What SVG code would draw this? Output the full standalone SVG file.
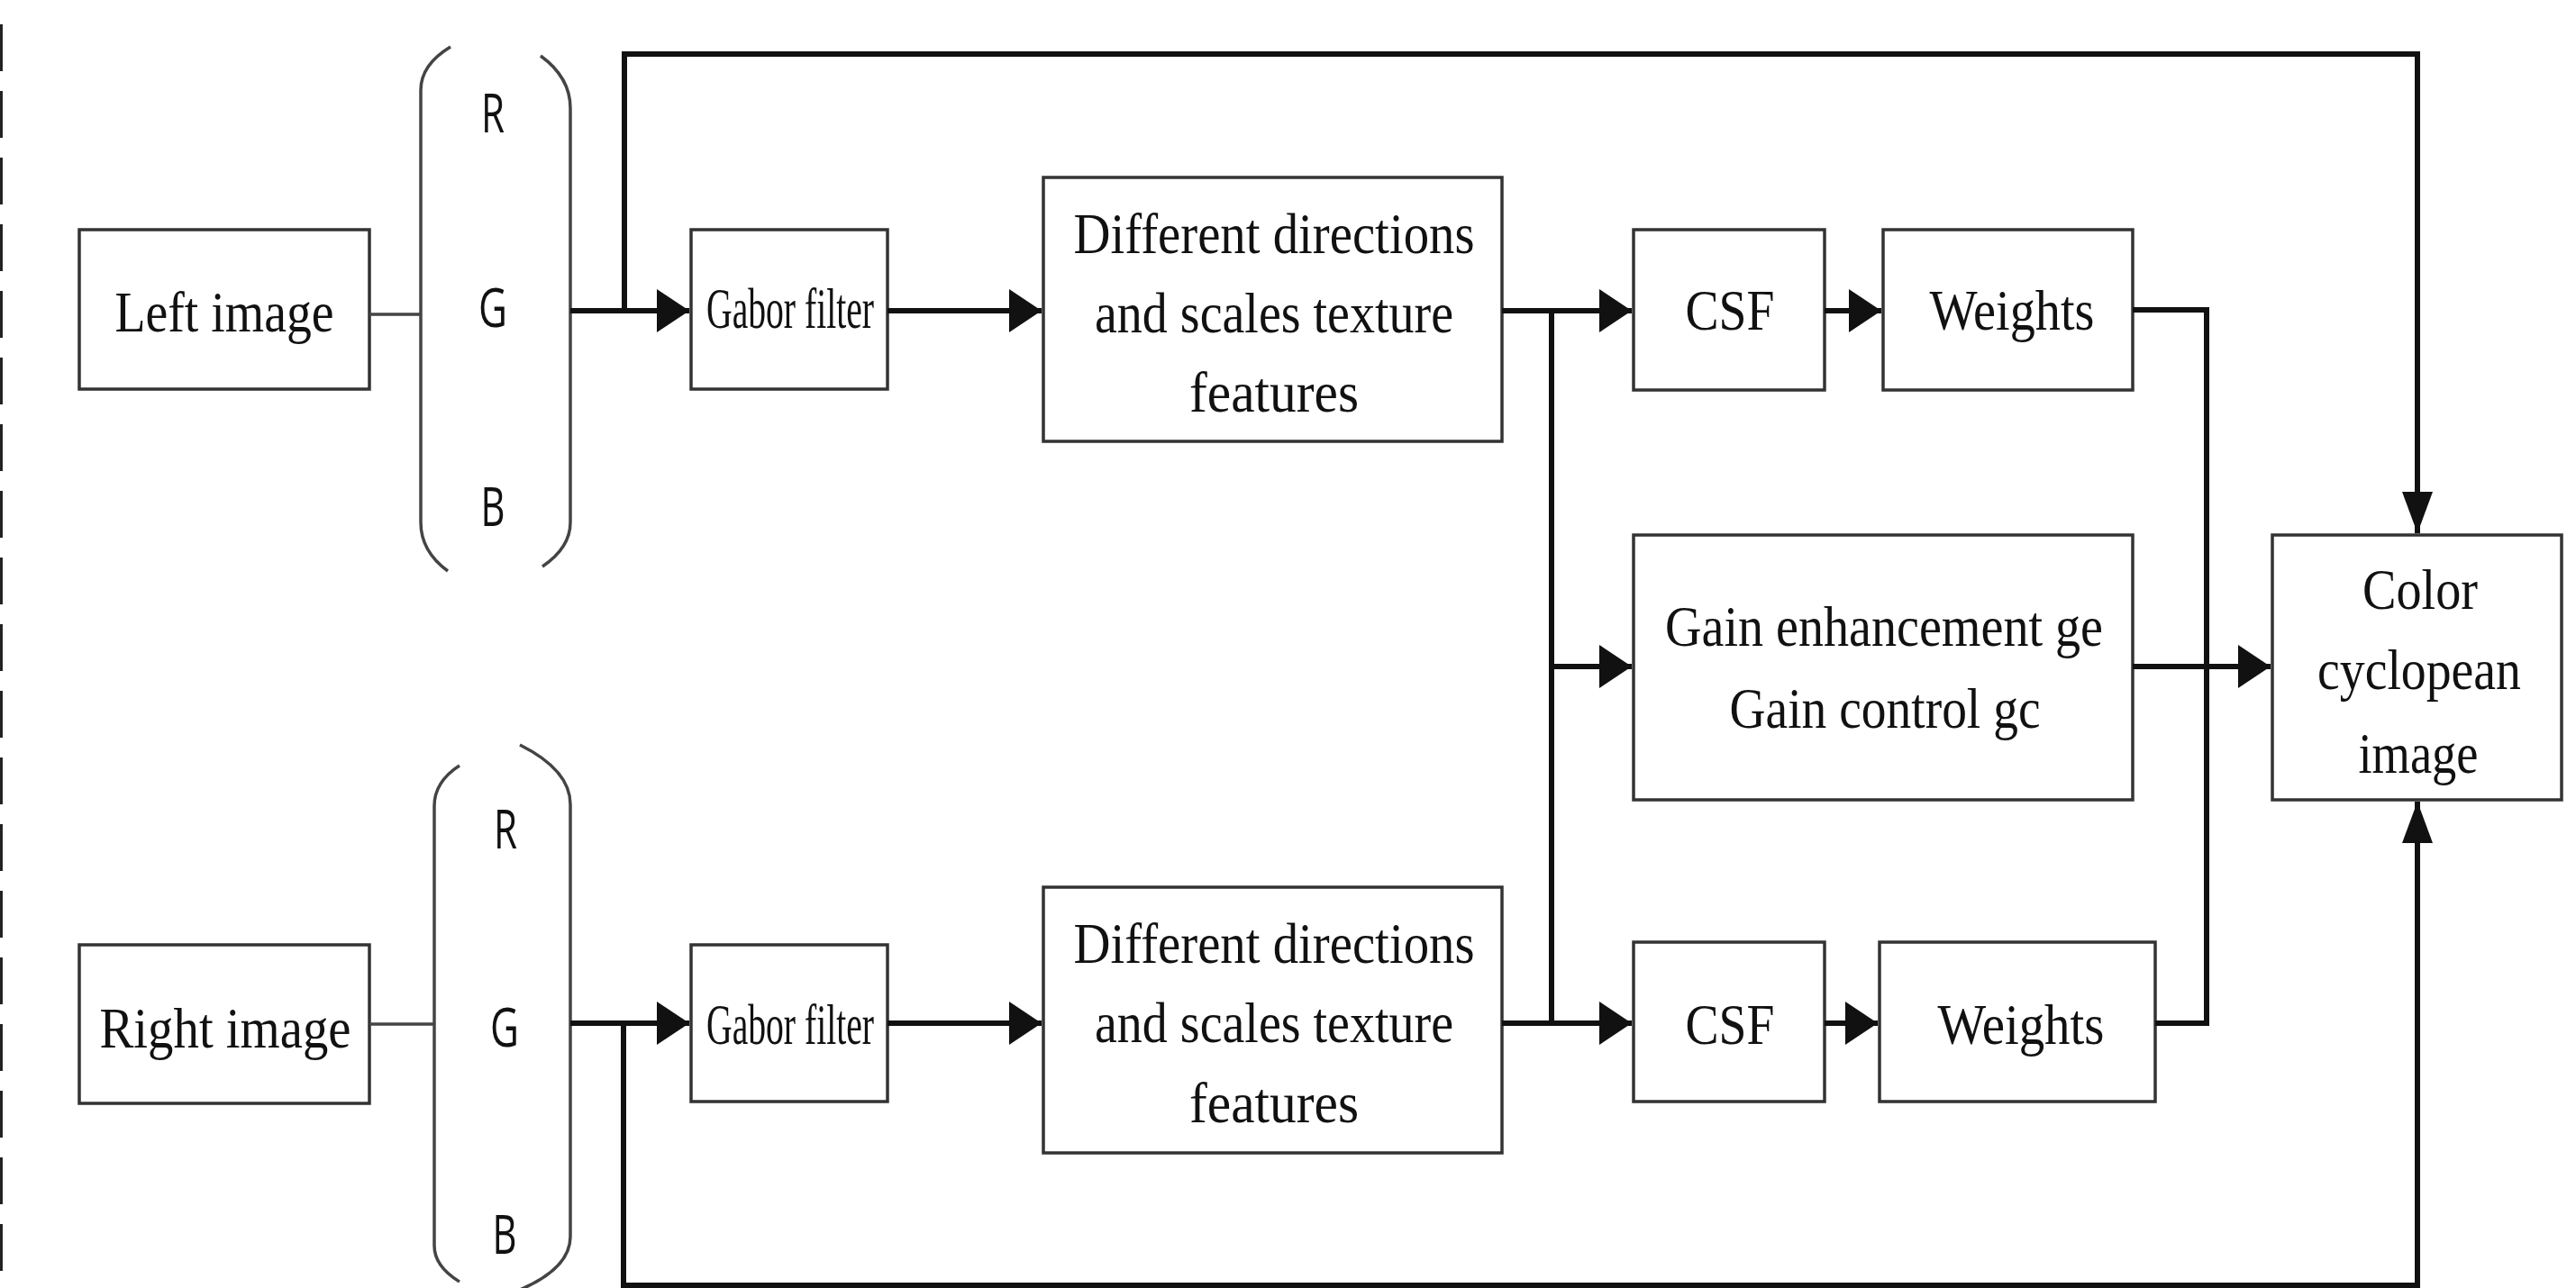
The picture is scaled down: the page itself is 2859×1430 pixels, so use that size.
<svg xmlns="http://www.w3.org/2000/svg" width="2859" height="1430" viewBox="0 0 2859 1430">
<style>
.box{fill:#fff;stroke:#333;stroke-width:3.5}
.t{font-family:"Liberation Serif","Times New Roman",serif;font-size:64px;fill:#111;text-anchor:middle}
.s{font-family:"Open Sans","Noto Sans",sans-serif;font-size:60px;fill:#111;text-anchor:middle}
.paren{fill:none;stroke:#444;stroke-width:3.5}
.thin{fill:none;stroke:#444;stroke-width:3.5}
.c{fill:none;stroke:#111;stroke-width:6}
.ch{fill:none;stroke:#111;stroke-width:6;marker-end:url(#ah)}
.cv{fill:none;stroke:#111;stroke-width:6;marker-end:url(#av)}
</style>
<defs>
<marker id="ah" markerUnits="userSpaceOnUse" markerWidth="36" markerHeight="48" refX="36" refY="24" orient="auto"><path d="M0,0 L36,24 L0,48 z" fill="#111"/></marker>
<marker id="av" markerUnits="userSpaceOnUse" markerWidth="46" markerHeight="34" refX="46" refY="17" orient="auto"><path d="M0,0 L46,17 L0,34 z" fill="#111"/></marker>
</defs>
<rect width="2859" height="1430" fill="#fff"/>
<line x1="1.5" y1="27" x2="1.5" y2="1430" stroke="#222" stroke-width="3" stroke-dasharray="52 22"/>

<g id="left-image"><rect class="box" x="88" y="255" width="322" height="177"/><text class="t" x="249" y="368" textLength="243" lengthAdjust="spacingAndGlyphs">Left image</text></g>
<g id="right-image"><rect class="box" x="88" y="1049" width="322" height="176"/><text class="t" x="250" y="1163" textLength="279" lengthAdjust="spacingAndGlyphs">Right image</text></g>

<g id="rgb-left">
<path class="paren" d="M500,52 Q467,72 467,100 L467,580 Q467,612 497,634"/>
<path class="paren" d="M600,62 Q633,86 633,120 L633,580 Q633,608 602,629"/>
<text class="s" x="547" y="147" textLength="26" lengthAdjust="spacingAndGlyphs">R</text>
<text class="s" x="547" y="363" textLength="32" lengthAdjust="spacingAndGlyphs">G</text>
<text class="s" x="547" y="584" textLength="27" lengthAdjust="spacingAndGlyphs">B</text>
</g>
<g id="rgb-right">
<path class="paren" d="M510,850 Q482,868 482,895 L482,1383 Q482,1406 510,1423"/>
<path class="paren" d="M577,827 Q633,855 633,893 L633,1373 Q633,1408 577,1432"/>
<text class="s" x="561" y="942" textLength="26" lengthAdjust="spacingAndGlyphs">R</text>
<text class="s" x="560" y="1162" textLength="32" lengthAdjust="spacingAndGlyphs">G</text>
<text class="s" x="560" y="1392" textLength="27" lengthAdjust="spacingAndGlyphs">B</text>
</g>

<g id="gabor-left"><rect class="box" x="767" y="255" width="218" height="177"/><text class="t" x="877" y="364" textLength="186" lengthAdjust="spacingAndGlyphs">Gabor filter</text></g>
<g id="gabor-right"><rect class="box" x="767" y="1049" width="218" height="174"/><text class="t" x="877" y="1159" textLength="186" lengthAdjust="spacingAndGlyphs">Gabor filter</text></g>

<g id="texture-left"><rect class="box" x="1158" y="197" width="509" height="293"/>
<text class="t" x="1414" y="281" textLength="445" lengthAdjust="spacingAndGlyphs">Different directions</text>
<text class="t" x="1414" y="369" textLength="398" lengthAdjust="spacingAndGlyphs">and scales texture</text>
<text class="t" x="1414" y="457" textLength="188" lengthAdjust="spacingAndGlyphs">features</text></g>
<g id="texture-right"><rect class="box" x="1158" y="985" width="509" height="295"/>
<text class="t" x="1414" y="1069" textLength="445" lengthAdjust="spacingAndGlyphs">Different directions</text>
<text class="t" x="1414" y="1157" textLength="398" lengthAdjust="spacingAndGlyphs">and scales texture</text>
<text class="t" x="1414" y="1246" textLength="188" lengthAdjust="spacingAndGlyphs">features</text></g>

<g id="csf-left"><rect class="box" x="1813" y="255" width="212" height="178"/><text class="t" x="1920" y="366" textLength="99" lengthAdjust="spacingAndGlyphs">CSF</text></g>
<g id="weights-left"><rect class="box" x="2090" y="255" width="277" height="178"/><text class="t" x="2233" y="366" textLength="183" lengthAdjust="spacingAndGlyphs">Weights</text></g>
<g id="gain"><rect class="box" x="1813" y="594" width="554" height="294"/>
<text class="t" x="2091" y="717" textLength="486" lengthAdjust="spacingAndGlyphs">Gain enhancement ge</text>
<text class="t" x="2092" y="808" textLength="345" lengthAdjust="spacingAndGlyphs">Gain control gc</text></g>
<g id="csf-right"><rect class="box" x="1813" y="1046" width="212" height="177"/><text class="t" x="1920" y="1159" textLength="99" lengthAdjust="spacingAndGlyphs">CSF</text></g>
<g id="weights-right"><rect class="box" x="2086" y="1046" width="306" height="177"/><text class="t" x="2243" y="1159" textLength="185" lengthAdjust="spacingAndGlyphs">Weights</text></g>
<g id="color-cyclopean"><rect class="box" x="2522" y="594" width="321" height="294"/>
<text class="t" x="2686" y="676" textLength="128" lengthAdjust="spacingAndGlyphs">Color</text>
<text class="t" x="2685" y="765" textLength="226" lengthAdjust="spacingAndGlyphs">cyclopean</text>
<text class="t" x="2684" y="858" textLength="133" lengthAdjust="spacingAndGlyphs">image</text></g>

<g id="connectors">
<line class="thin" x1="410" y1="349" x2="467" y2="349"/>
<line class="thin" x1="410" y1="1137" x2="482" y2="1137"/>
<path class="ch" d="M633,345 L765,345"/>
<path class="cv" d="M693,345 L693,60 L2683,60 L2683,592"/>
<path class="ch" d="M633,1136 L765,1136"/>
<path class="cv" d="M692,1136 L692,1427 L2683,1427 L2683,890"/>
<path class="ch" d="M985,345 L1156,345"/>
<path class="ch" d="M985,1136 L1156,1136"/>
<path class="ch" d="M1667,345 L1811,345"/>
<path class="ch" d="M1667,1136 L1811,1136"/>
<path class="c" d="M1722,345 L1722,1136"/>
<path class="ch" d="M1722,740 L1811,740"/>
<path class="ch" d="M2025,345 L2088,345"/>
<path class="ch" d="M2025,1136 L2084,1136"/>
<path class="c" d="M2367,344 L2449,344 L2449,1136 L2392,1136"/>
<path class="ch" d="M2367,740 L2520,740"/>
</g>
</svg>
